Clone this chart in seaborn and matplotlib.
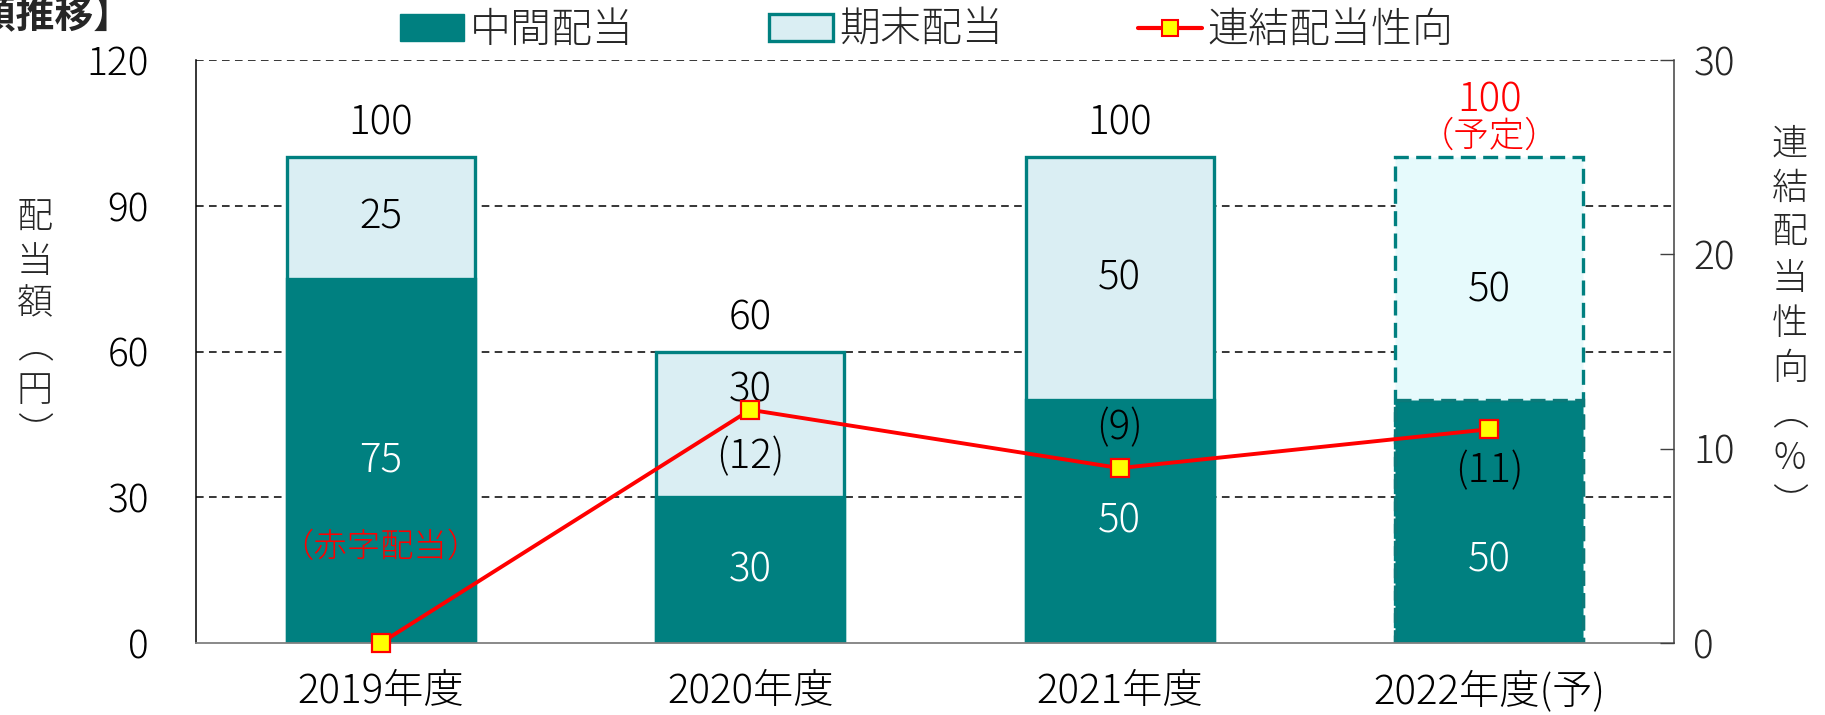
import matplotlib
matplotlib.use("Agg")
import matplotlib.pyplot as plt
import seaborn as sns
from matplotlib.patches import Patch
from matplotlib.lines import Line2D

# ---------------- data ----------------
categories = ["2019年度", "2020年度", "2021年度", "2022年度(予)"]
interim = [75, 30, 50, 50]            # 中間配当 (円)
year_end = [25, 30, 50, 50]           # 期末配当 (円)
payout = [0, 12, 9, 11]               # 連結配当性向 (%)
payout_labels = ["（赤字配当）", "(12)", "(9)", "(11)"]
total_labels = ["100", "60", "100", "100"]
plan_note = "（予定）"
left_ticks = [0, 30, 60, 90, 120]
right_ticks = [0, 10, 20, 30]
legend_labels = ["中間配当", "期末配当", "連結配当性向"]
title_text = "【配当額推移】"
left_ylabel = "配当額（円）"
right_ylabel = "連結配当性向（%）"

# ---------------- style ----------------
sns.set_theme(style="white")
plt.rcParams["font.family"] = ["Noto Sans CJK JP", "DejaVu Sans"]
plt.rcParams["font.weight"] = "light"

TEAL = "#008080"
LIGHT = "#DAEEF3"
LIGHT_PLAN = "#E6FAFC"
RED = "#FF0000"
YELLOW = "#FFFF00"
NUM_FS = 29
TICK_FS = 28

totals = [a + b for a, b in zip(interim, year_end)]

W, H = 1825, 715
fig = plt.figure(figsize=(W / 100, H / 100), dpi=100)
ax = fig.add_axes([196 / W, 1 - 643 / H, (1674 - 196) / W, (643 - 60) / H])
ax2 = ax.twinx()

# stacked bars: total (期末 colour) then 中間 on top
sns.barplot(x=categories, y=totals, color=LIGHT, saturation=1, width=0.51,
            edgecolor=TEAL, linewidth=2.4, ax=ax)
sns.barplot(x=categories, y=interim, color=TEAL, saturation=1, width=0.51,
            edgecolor=TEAL, linewidth=2.4, ax=ax)
n = len(categories)
dash = (0, (4.5, 2.2))
ax.patches[n - 1].set_facecolor(LIGHT_PLAN)
ax.patches[n - 1].set_linestyle(dash)
ax.patches[2 * n - 1].set_linestyle(dash)
ax.patches[2 * n - 1].set_edgecolor("#0B7A7A")

# payout ratio line
sns.pointplot(x=categories, y=payout, color=RED, markers="s", linestyles="-",
              errorbar=None, ax=ax2)
ln = ax2.lines[0]
ln.set_linewidth(2.8)
ln.set_markersize(12.5)
ln.set_markerfacecolor(YELLOW)
ln.set_markeredgecolor(RED)
ln.set_markeredgewidth(1.6)
ln.set_clip_on(False)
ln.set_zorder(5)

# axes limits / ticks
ax.set_ylim(0, 120)
ax.set_yticks(left_ticks)
ax2.set_ylim(0, 30)
ax2.set_yticks(right_ticks)
ax.set_xlim(-0.5, n - 0.5)
ax.set_xlabel("")
ax.set_ylabel("")
ax2.set_ylabel("")

ax.tick_params(axis="y", length=0, labelsize=TICK_FS, pad=34, colors="black")
ax.tick_params(axis="x", which="major", length=0, labelsize=NUM_FS, pad=20, colors="black")
ax.set_xticks([i + 0.5 for i in range(n - 1)], minor=True)
ax.tick_params(axis="x", which="minor", direction="in", length=10, width=1, color="#808080")
ax2.tick_params(axis="y", direction="in", length=10, width=1, color="#404040",
                labelsize=TICK_FS, pad=14)
ax2.grid(False)

ax.yaxis.grid(True, color="black", linestyle=(0, (5, 3.5)), linewidth=1.1)
ax.xaxis.grid(False)
ax.set_axisbelow(True)
ax.yaxis.get_gridlines()[0].set_visible(False)

for s in ["top", "right"]:
    ax.spines[s].set_visible(False)
for s in ["top", "left", "bottom"]:
    ax2.spines[s].set_visible(False)
ax.spines["left"].set_color("black")
ax.spines["left"].set_linewidth(1.1)
ax.spines["bottom"].set_color("#808080")
ax.spines["bottom"].set_linewidth(1.3)
ax2.spines["right"].set_color("#404040")
ax2.spines["right"].set_linewidth(1.1)

# ---------------- labels ----------------
interim_label_y = [37.5, 15, 25, 17]
year_end_label_y = [87.5, 52, 75, 72.5]
payout_label_y = [19.7, 38.2, 44.2, 35.3]

for i in range(n):
    ax.text(i, interim_label_y[i], str(interim[i]), ha="center", va="center",
            fontsize=NUM_FS, color="white")
    ax.text(i, year_end_label_y[i], str(year_end[i]), ha="center", va="center",
            fontsize=NUM_FS, color="black")
    if i == 0:
        ax.text(i, payout_label_y[i], payout_labels[i], ha="center", va="center",
                fontsize=24, color=RED)
    else:
        ax.text(i, payout_label_y[i], payout_labels[i], ha="center", va="center",
                fontsize=NUM_FS, color="black", zorder=6)
    if i < n - 1:
        ax.annotate(total_labels[i], (i, totals[i]), xytext=(0, 16),
                    textcoords="offset points", ha="center", va="baseline",
                    fontsize=NUM_FS, color="black")
    else:
        ax.annotate(total_labels[i], (i, totals[i]), xytext=(0, 33),
                    textcoords="offset points", ha="center", va="baseline",
                    fontsize=NUM_FS, color=RED)
        ax.annotate(plan_note, (i, totals[i]), xytext=(0, 1),
                    textcoords="offset points", ha="center", va="bottom",
                    fontsize=25.5, color=RED)

# vertical axis titles
def vert(s):
    return "\n".join(s.replace("（", "︵").replace("）", "︶"))

fig.text(35 / W, 1 - 326 / H, vert(left_ylabel), ha="center", va="center",
         fontsize=26, linespacing=1.15)
fig.text(1790 / W, 1 - 324 / H, vert(right_ylabel), ha="center", va="center",
         fontsize=26, linespacing=1.22)

# title (partly cut at the left edge)
fig.text(132 / W, 1 - 17 / H, title_text, ha="right", va="center",
         fontsize=28, fontweight="bold")

# legend
handles = [
    Patch(facecolor=TEAL, edgecolor=TEAL),
    Patch(facecolor=LIGHT, edgecolor=TEAL, linewidth=2.4),
    Line2D([], [], color=RED, lw=3, marker="s", markersize=12,
           markerfacecolor=YELLOW, markeredgecolor=RED, markeredgewidth=1.5),
]
fig.legend(handles, legend_labels, loc="center", bbox_to_anchor=(0.508, 0.958),
           ncol=3, frameon=False, fontsize=29.5, handlelength=1.55, handleheight=0.65,
           handletextpad=0.15, columnspacing=3.3)

fig.savefig("out.png", dpi=100)
